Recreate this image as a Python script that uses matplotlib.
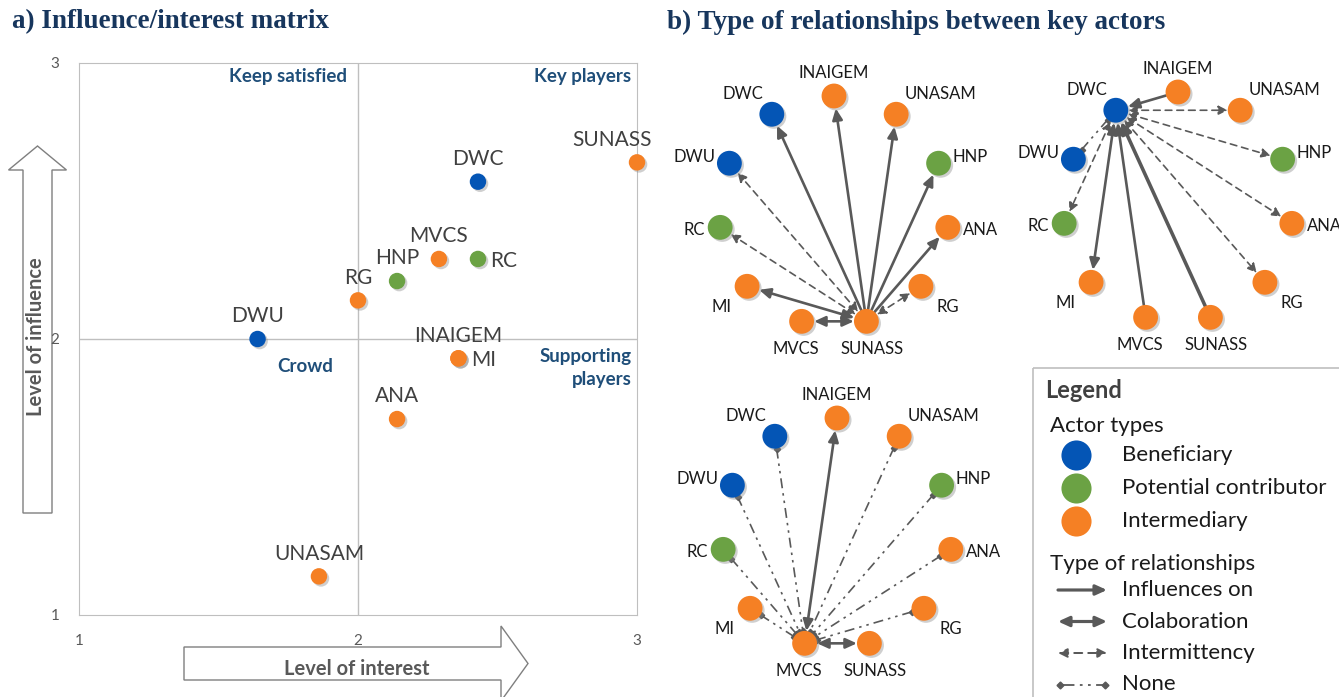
import numpy as np
import matplotlib.pyplot as plt
import matplotlib.patheffects as pe
from matplotlib.patches import FancyArrow, FancyArrowPatch, Rectangle

plt.rcParams['font.family'] = ['Lato', 'DejaVu Sans']

# ---- panel a: influence / interest scores
actors = ['SUNASS', 'DWC', 'MVCS', 'RC', 'HNP', 'RG', 'DWU', 'INAIGEM', 'MI', 'ANA', 'UNASAM']
interest = [3.00, 2.43, 2.29, 2.43, 2.14, 2.00, 1.64, 2.36, 2.36, 2.14, 1.86]
influence = [2.64, 2.57, 2.29, 2.29, 2.21, 2.14, 2.00, 1.93, 1.93, 1.71, 1.14]

beneficiary = ['DWC', 'DWU']
contributor = ['HNP', 'RC']

# ---- panel b: actors on the ring (clockwise from top) and relationships
ring_order = ['INAIGEM', 'UNASAM', 'HNP', 'ANA', 'RG', 'SUNASS', 'MVCS', 'MI', 'RC', 'DWU', 'DWC']

edges_sunass = [('SUNASS', 'DWC', 'influence'), ('SUNASS', 'INAIGEM', 'influence'),
                ('SUNASS', 'UNASAM', 'influence'), ('SUNASS', 'HNP', 'influence'),
                ('SUNASS', 'ANA', 'influence'), ('SUNASS', 'MI', 'collab'),
                ('SUNASS', 'MVCS', 'collab'), ('SUNASS', 'DWU', 'intermit'),
                ('SUNASS', 'RC', 'intermit'), ('SUNASS', 'RG', 'intermit')]
edges_dwc = [('INAIGEM', 'DWC', 'influence'), ('DWC', 'UNASAM', 'intermit'),
             ('DWC', 'HNP', 'intermit'), ('DWC', 'ANA', 'intermit'),
             ('DWC', 'RG', 'intermit'), ('DWC', 'RC', 'intermit'),
             ('DWU', 'DWC', 'none'), ('DWC', 'MI', 'collab'),
             ('MVCS', 'DWC', 'influence'), ('SUNASS', 'DWC', 'influence')]
edges_mvcs = [('MVCS', 'INAIGEM', 'collab'), ('MVCS', 'SUNASS', 'collab'),
              ('DWC', 'MVCS', 'none'), ('DWU', 'MVCS', 'none'), ('RC', 'MVCS', 'none'),
              ('MI', 'MVCS', 'none'), ('UNASAM', 'MVCS', 'none'), ('HNP', 'MVCS', 'none'),
              ('ANA', 'MVCS', 'none'), ('RG', 'MVCS', 'none')]

legend_types = ['Beneficiary', 'Potential contributor', 'Intermediary']
legend_rels = ['Influences on', 'Colaboration', 'Intermittency', 'None']

BLUE, GREEN, ORANGE = '#0455B5', '#6BA244', '#F58024'
EDGE = '#595959'
NAVY = '#17365D'


def color_of(name):
    if name in beneficiary:
        return BLUE
    if name in contributor:
        return GREEN
    return ORANGE


shadow = [pe.SimplePatchShadow(offset=(1.5, -1.5), shadow_rgbFace='#888888', alpha=0.4), pe.Normal()]

W, H = 1339, 697
fig = plt.figure(figsize=(W / 100, H / 100), dpi=100)


def px_axes(x0, y0, x1, y1):
    return fig.add_axes([x0 / W, 1 - y1 / H, (x1 - x0) / W, (y1 - y0) / H])


# overlay for titles, block arrows and the legend box
ov = fig.add_axes([0, 0, 1, 1], zorder=0)
ov.set_xlim(0, W)
ov.set_ylim(H, 0)
ov.axis('off')

ov.text(12, 22, 'a) Influence/interest matrix', family='Liberation Serif', weight='bold',
        fontsize=19.5, color=NAVY, va='center')
ov.text(667, 22, 'b) Type of relationships between key actors', family='Liberation Serif',
        weight='bold', fontsize=19.5, color=NAVY, va='center')

ov.add_patch(FancyArrow(37.5, 513, 0, -367, width=29, head_width=58, head_length=24,
                        length_includes_head=True, fc='white', ec='#7F7F7F', lw=1, zorder=3))
ov.add_patch(FancyArrow(184, 663.5, 344, 0, width=33, head_width=75, head_length=27,
                        length_includes_head=True, fc='white', ec='#7F7F7F', lw=1, zorder=3))
ov.text(36, 337, 'Level of influence', rotation=90, ha='center', va='center',
        weight='bold', fontsize=14.5, color='#595959', zorder=4)
ov.text(357, 669, 'Level of interest', ha='center', va='center',
        weight='bold', fontsize=14.5, color='#595959', zorder=4)

# ---- panel a
ax = px_axes(79, 63, 637, 615)
ax.set_zorder(1)
ax.set_xlim(1, 3)
ax.set_ylim(1, 3)
ax.set_xticks([1, 2, 3])
ax.set_yticks([1, 2, 3])
ax.tick_params(length=0, labelsize=11, labelcolor='#595959')
ax.tick_params(axis='x', pad=14)
ax.tick_params(axis='y', pad=14)
for s in ax.spines.values():
    s.set_color('#BFBFBF')
ax.axvline(2, color='#BFBFBF', lw=1, zorder=1)
ax.axhline(2, color='#BFBFBF', lw=1, zorder=1)
ax.patch.set_alpha(0)

cols = [color_of(a) for a in actors]
sc = ax.scatter(interest, influence, s=140, c=cols, zorder=3, clip_on=False, linewidths=0)
sc.set_path_effects(shadow)

label_side = {'RC': 'right', 'MI': 'right', 'SUNASS': 'left'}
for name, x, y in zip(actors, interest, influence):
    side = label_side.get(name, 'above')
    if side == 'right':
        off, ha = (9, -5.5), 'left'
    elif side == 'left':
        off, ha = (-18, 12), 'center'
    else:
        off, ha = (0, 12), 'center'
    ax.annotate(name, (x, y), xytext=off, textcoords='offset points', ha=ha,
                va='baseline', fontsize=15, color='#404040', zorder=4)

qkw = dict(weight='bold', fontsize=13.5, color='#1F4E79', transform=ax.transData)
ax.text(1.96, 2.95, 'Keep satisfied', ha='right', va='center', **qkw)
ax.text(2.98, 2.95, 'Key players', ha='right', va='center', **qkw)
ax.text(1.81, 1.9, 'Crowd', ha='center', va='center', **qkw)
ax.text(2.98, 1.895, 'Supporting\nplayers', ha='right', va='center', linespacing=1.4, **qkw)

# ---- panel b networks
R = 115.0
NODE_R = 12.5 / R
STYLES = {
    'influence': dict(arrow='-|>,head_length=0.55,head_width=0.25', ms=12, lw=1.9, ls='-'),
    'collab': dict(arrow='<|-|>,head_length=0.55,head_width=0.25', ms=12, lw=1.9, ls='-'),
    'intermit': dict(arrow='<|-|>,head_length=0.6,head_width=0.3', ms=9, lw=1.2, ls=(0, (4, 3))),
}


def draw_edge(a, p, q, kind, lw_scale=1.0):
    d = q - p
    u = d / np.hypot(*d)
    s = p + u * NODE_R
    e = q - u * NODE_R
    if kind == 'none':
        a.plot([s[0], e[0]], [s[1], e[1]], color=EDGE, lw=1.2, ls=(0, (6, 3, 1.5, 3, 1.5, 3)),
               marker='D', ms=3.2, zorder=2)
    else:
        st = STYLES[kind]
        a.add_patch(FancyArrowPatch(s, e, arrowstyle=st['arrow'], mutation_scale=st['ms'],
                                    lw=st['lw'] * lw_scale, ls=st['ls'], color=EDGE,
                                    shrinkA=0, shrinkB=0, zorder=2))


def draw_network(cx, cy, edges, thick=()):
    hw, hh = 175, 170
    a = px_axes(cx - hw, cy - hh, cx + hw, cy + hh)
    a.set_zorder(2)
    a.set_xlim(-hw / R, hw / R)
    a.set_ylim(-hh / R, hh / R)
    a.axis('off')
    n = len(ring_order)
    ang = np.radians(90 - np.arange(n) * 360 / n)
    pos = {name: np.array([np.cos(t), np.sin(t)]) for name, t in zip(ring_order, ang)}
    for src, dst, kind in edges:
        draw_edge(a, pos[src], pos[dst], kind, 1.35 if (src, dst) in thick else 1.0)
    xs = [pos[k][0] for k in ring_order]
    ys = [pos[k][1] for k in ring_order]
    nodes = a.scatter(xs, ys, s=320, c=[color_of(k) for k in ring_order], zorder=3,
                      linewidths=0, clip_on=False)
    nodes.set_path_effects(shadow)
    for name, t in zip(ring_order, ang):
        c, s = np.cos(t), np.sin(t)
        ha = 'left' if c > 0.35 else ('right' if c < -0.35 else 'center')
        va = 'bottom' if s > 0.5 else ('top' if s < -0.5 else 'center')
        k = 16 if s < -0.5 else 12
        a.annotate(name, pos[name], xytext=(c * k * 0.9, s * k * 0.9), textcoords='offset points',
                   ha=ha, va=va, fontsize=12, color='#1A1A1A', zorder=4, annotation_clip=False)
    return a


draw_network(834, 211, edges_sunass)
draw_network(1178, 207, edges_dwc, thick=[('SUNASS', 'DWC')])
draw_network(837, 533, edges_mvcs)

# ---- legend box
ov.add_patch(Rectangle((1033, 368), 330, 340, fill=False, ec='#BFBFBF', lw=1.2))
ov.text(1045, 391, 'Legend', weight='bold', fontsize=17, color='#404040', va='center')
ov.text(1050, 426, 'Actor types', fontsize=16, color='#1A1A1A', va='center')
for i, (lab, col) in enumerate(zip(legend_types, [BLUE, GREEN, ORANGE])):
    y = 455 + i * 33
    ov.scatter([1076], [y], s=470, c=col, linewidths=0)
    ov.text(1122, y, lab, fontsize=16, color='#1A1A1A', va='center')
ov.text(1050, 564, 'Type of relationships', fontsize=16, color='#1A1A1A', va='center')
rel_kinds = ['influence', 'collab', 'intermit', 'none']
for i, (lab, kind) in enumerate(zip(legend_rels, rel_kinds)):
    y = 590 + i * 31.5
    if kind == 'none':
        ov.plot([1060, 1105], [y, y], color=EDGE, lw=1.3, ls=(0, (8, 3, 1.5, 3, 1.5, 3)),
                marker='D', ms=3.5)
    else:
        st = STYLES[kind]
        ov.add_patch(FancyArrowPatch((1058, y), (1107, y), arrowstyle=st['arrow'],
                                     mutation_scale=st['ms'], lw=st['lw'] * 1.2, ls=st['ls'],
                                     color=EDGE, shrinkA=0, shrinkB=0))
    ov.text(1122, y, lab, fontsize=16, color='#1A1A1A', va='center')

fig.savefig('out.png', dpi=100)
